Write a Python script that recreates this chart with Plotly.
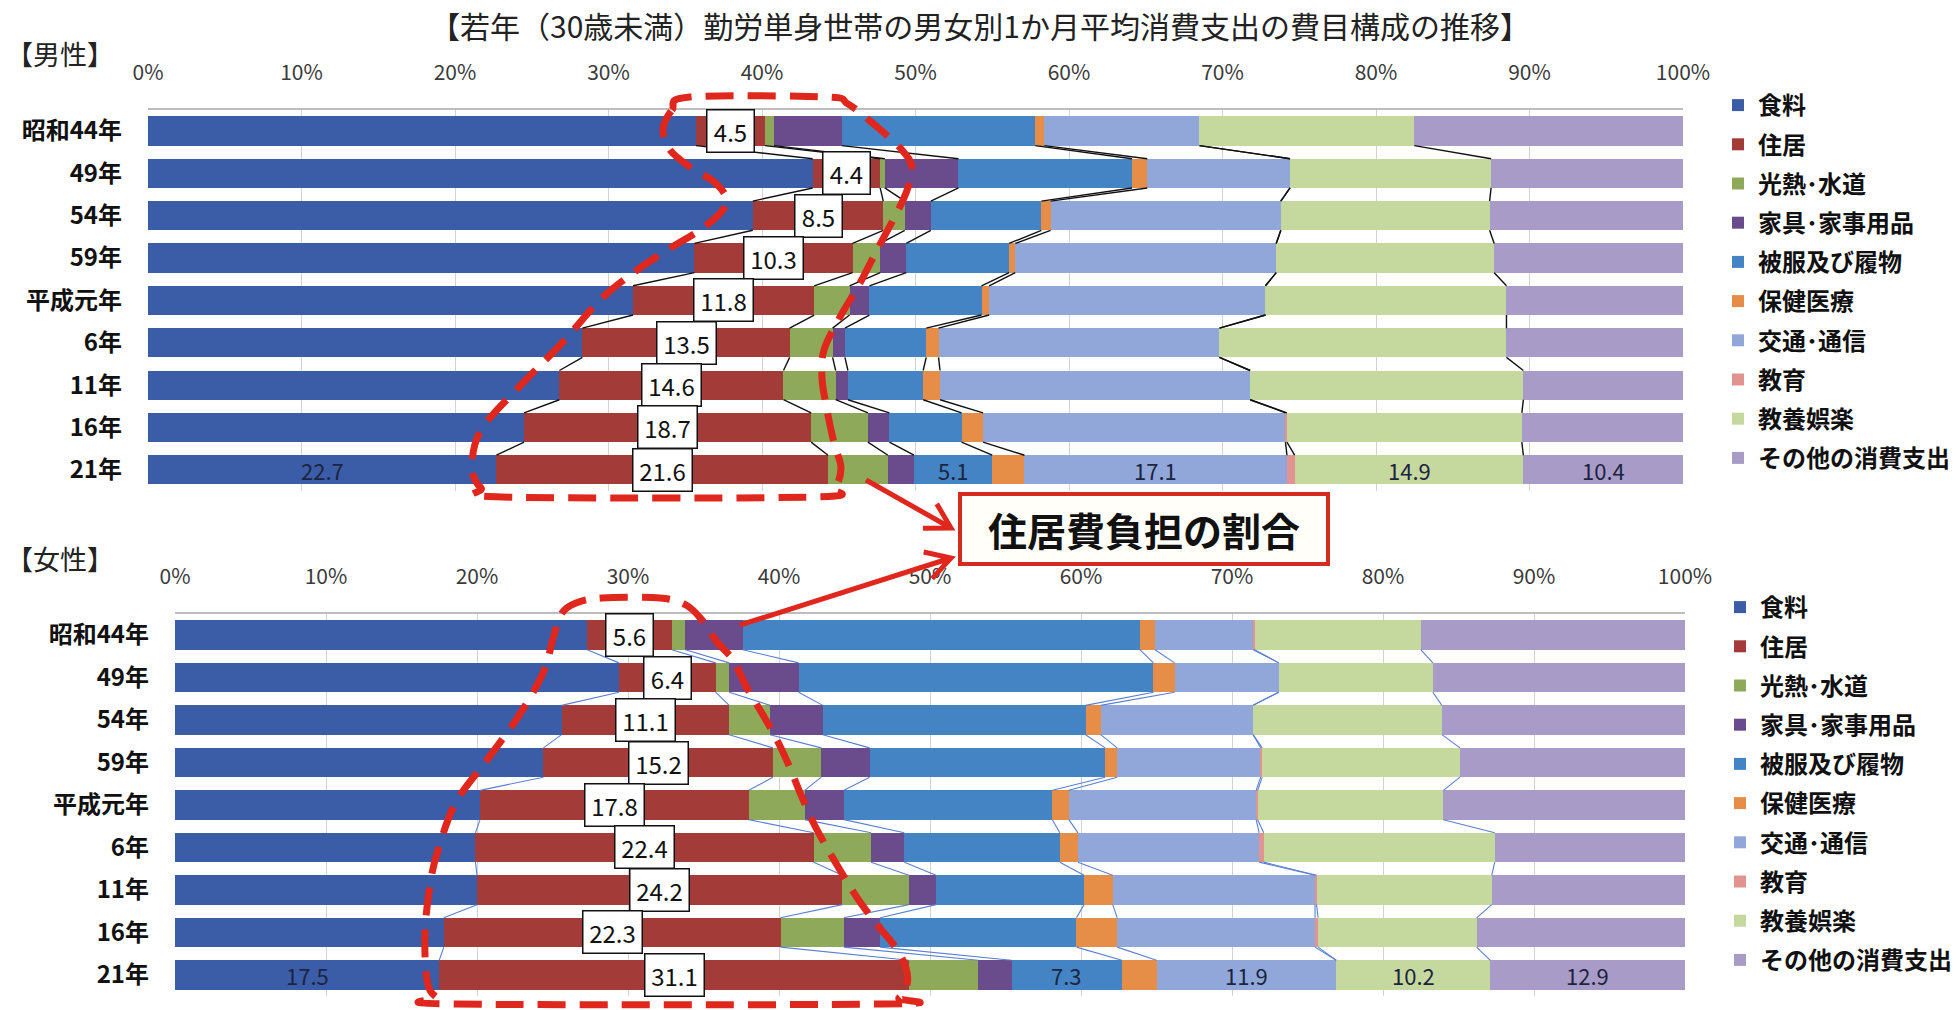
import math
import plotly.graph_objects as go

# ---------------- data ----------------
categories = ["昭和44年", "49年", "54年", "59年", "平成元年", "6年", "11年", "16年", "21年"]
series_names = ["食料", "住居", "光熱･水道", "家具･家事用品", "被服及び履物",
                "保健医療", "交通･通信", "教育", "教養娯楽", "その他の消費支出"]

male_food      = [35.7, 43.3, 39.4, 35.6, 31.6, 28.3, 26.8, 24.5, 22.7]
male_housing   = [4.5, 4.4, 8.5, 10.3, 11.8, 13.5, 14.6, 18.7, 21.6]
male_utility   = [0.6, 0.3, 1.4, 1.8, 2.3, 2.8, 3.4, 3.7, 3.9]
male_furniture = [4.4, 4.8, 1.7, 1.7, 1.3, 0.8, 0.8, 1.4, 1.7]
male_clothing  = [12.6, 11.3, 7.2, 6.7, 7.3, 5.3, 4.9, 4.7, 5.1]
male_medical   = [0.6, 1.0, 0.6, 0.4, 0.5, 0.8, 1.1, 1.4, 2.1]
male_transport = [10.1, 9.3, 15.0, 17.0, 18.0, 18.3, 20.2, 19.7, 17.1]
male_education = [0.0, 0.0, 0.0, 0.0, 0.0, 0.0, 0.0, 0.1, 0.5]
male_culture   = [14.0, 13.1, 13.6, 14.2, 15.7, 18.7, 17.8, 15.3, 14.9]
male_other     = [17.5, 12.5, 12.6, 12.3, 11.5, 11.5, 10.4, 10.5, 10.4]

female_food      = [27.3, 29.4, 25.6, 24.4, 20.2, 19.9, 20.0, 17.8, 17.5]
female_housing   = [5.6, 6.4, 11.1, 15.2, 17.8, 22.4, 24.2, 22.3, 31.1]
female_utility   = [0.9, 0.9, 2.7, 3.2, 3.7, 3.8, 4.4, 4.2, 4.6]
female_furniture = [3.8, 4.6, 3.5, 3.2, 2.6, 2.2, 1.8, 2.4, 2.2]
female_clothing  = [26.3, 23.5, 17.4, 15.6, 13.8, 10.3, 9.8, 13.0, 7.3]
female_medical   = [1.0, 1.4, 1.0, 0.8, 1.1, 1.2, 1.9, 2.7, 2.3]
female_transport = [6.5, 6.9, 10.1, 9.5, 12.4, 12.0, 13.4, 13.1, 11.9]
female_education = [0.1, 0.0, 0.0, 0.1, 0.1, 0.3, 0.1, 0.2, 0.0]
female_culture   = [11.0, 10.2, 12.5, 13.1, 12.3, 15.3, 11.6, 10.5, 10.2]
female_other     = [17.5, 16.7, 16.1, 14.9, 16.0, 12.6, 12.8, 13.8, 12.9]

x_ticks = [0, 10, 20, 30, 40, 50, 60, 70, 80, 90, 100]
x_tick_labels = ["0%", "10%", "20%", "30%", "40%", "50%", "60%", "70%", "80%", "90%", "100%"]

male = [male_food, male_housing, male_utility, male_furniture, male_clothing,
        male_medical, male_transport, male_education, male_culture, male_other]
female = [female_food, female_housing, female_utility, female_furniture, female_clothing,
          female_medical, female_transport, female_education, female_culture, female_other]

# ---------------- style ----------------
colors = ["#3B5CA7", "#A33B39", "#8EA95A", "#6A4C8C", "#4584C4",
          "#E68E47", "#91A7D9", "#E0938F", "#C5D89E", "#A99BC8"]
FONT = "Noto Sans CJK JP"
W, H = 1960, 1010
BAR_W = 0.69
RED = "#E0271E"


def px(x, y):
    return f"{x / W:.5f},{1 - y / H:.5f}"


def smooth_closed(points):
    # Catmull-Rom spline -> cubic bezier path (closed)
    n = len(points)
    d = "M" + px(*points[0])
    for i in range(n):
        p0 = points[(i - 1) % n]
        p1 = points[i]
        p2 = points[(i + 1) % n]
        p3 = points[(i + 2) % n]
        c1 = (p1[0] + (p2[0] - p0[0]) / 6, p1[1] + (p2[1] - p0[1]) / 6)
        c2 = (p2[0] - (p3[0] - p1[0]) / 6, p2[1] - (p3[1] - p1[1]) / 6)
        d += " C" + px(*c1) + " " + px(*c2) + " " + px(*p2)
    return d + " Z"


def arrow_path(start, tip, arm=28, ang=30):
    dx, dy = tip[0] - start[0], tip[1] - start[1]
    L = math.hypot(dx, dy)
    ux, uy = -dx / L, -dy / L
    pts = []
    for s in (1, -1):
        a = math.radians(ang * s)
        rx = ux * math.cos(a) - uy * math.sin(a)
        ry = ux * math.sin(a) + uy * math.cos(a)
        pts.append((tip[0] + arm * rx, tip[1] + arm * ry))
    return ("M" + px(*start) + " L" + px(*tip) +
            " M" + px(*pts[0]) + " L" + px(*tip) + " L" + px(*pts[1]))


fig = go.Figure()

panels = [
    dict(data=male, xa="x", ya="y", legend="legend", grp="m", conn="#111111", connw=1.4),
    dict(data=female, xa="x2", ya="y2", legend="legend2", grp="f", conn="#5A7FD2", connw=1.1),
]
rows = list(range(len(categories)))
annotations = []

for p in panels:
    data = p["data"]
    for k, (name, vals) in enumerate(zip(series_names, data)):
        fig.add_trace(go.Bar(
            x=vals, y=rows, orientation="h", name=name,
            marker=dict(color=colors[k], line=dict(width=0)),
            width=BAR_W, xaxis=p["xa"], yaxis=p["ya"],
            legend=p["legend"], legendgroup=p["grp"] + str(k),
            hovertemplate=name + ": %{x}<extra></extra>",
        ))
    # cumulative sums per row
    cum = []
    for i in rows:
        c, acc = [], 0.0
        for k in range(len(series_names)):
            acc += data[k][i]
            c.append(acc)
        cum.append(c)
    # series connector lines
    for k in range(len(series_names) - 1):
        xs, ys = [], []
        for i in rows[:-1]:
            xs += [cum[i][k], cum[i + 1][k], None]
            ys += [i + BAR_W / 2, i + 1 - BAR_W / 2, None]
        fig.add_trace(go.Scatter(
            x=xs, y=ys, mode="lines", xaxis=p["xa"], yaxis=p["ya"],
            line=dict(color=p["conn"], width=p["connw"]),
            showlegend=False, hoverinfo="skip",
        ))
    # housing value boxes
    for i in rows:
        v = data[1][i]
        t = f"{v:.1f}"
        annotations.append(dict(
            x=cum[i][0] + v / 2, y=i, xref=p["xa"], yref=p["ya"],
            text=t, showarrow=False, width=len(t) * 12 + 4,
            font=dict(family=FONT, size=24, color="#111111"),
            bgcolor="white", bordercolor="#111111", borderwidth=1.5, borderpad=3,
        ))
    # plain labels on the last row
    last = rows[-1]
    for k in [0, 4, 6, 8, 9]:
        v = data[k][last]
        start = cum[last][k] - v
        annotations.append(dict(
            x=start + v / 2, y=last, xref=p["xa"], yref=p["ya"],
            text=f"{v:.1f}", showarrow=False,
            font=dict(family=FONT, size=22, color="#1B2440"),
        ))

axis_common = dict(
    range=[0, 100], side="top", tickvals=x_ticks, ticktext=x_tick_labels,
    showgrid=True, gridcolor="#D3D3D3", gridwidth=1, zeroline=False,
    showline=True, linecolor="#BDBDBD", linewidth=1.5, ticks="",
    ticklabelstandoff=20, tickfont=dict(family=FONT, size=21, color="#3A3A3A"),
    fixedrange=True, automargin=False,
)
yaxis_common = dict(
    range=[8.5, -0.5], tickvals=rows, ticktext=categories,
    showgrid=False, zeroline=False, showline=False, ticks="",
    ticklabelstandoff=25,
    tickfont=dict(family=FONT, size=24, color="#111111", weight="bold"),
    fixedrange=True, automargin=False,
)

legend_common = dict(xanchor="left", yanchor="top", traceorder="grouped",
                     tracegroupgap=5,
                     font=dict(family=FONT, size=24, color="#111111", weight="bold"),
                     bgcolor="rgba(0,0,0,0)")

fig.update_layout(
    template="none",
    width=W, height=H, margin=dict(l=0, r=0, t=0, b=0, pad=0, autoexpand=False),
    paper_bgcolor="white", plot_bgcolor="white",
    barmode="stack", bargap=0.3,
    font=dict(family=FONT),
    xaxis=dict(axis_common, domain=[148 / W, 1683 / W], anchor="y"),
    yaxis=dict(yaxis_common, domain=[1 - 491 / H, 1 - 109.8 / H], anchor="x"),
    xaxis2=dict(axis_common, domain=[175 / W, 1685 / W], anchor="y2"),
    yaxis2=dict(yaxis_common, domain=[1 - 996.2 / H, 1 - 613.8 / H], anchor="x2"),
    legend=dict(legend_common, x=1718 / W, y=1 - 83 / H),
    legend2=dict(legend_common, x=1720 / W, y=1 - 585 / H),
    showlegend=True,
)

# titles
annotations += [
    dict(x=980 / W, y=1 - 25 / H, xref="paper", yref="paper", showarrow=False,
         xanchor="center", yanchor="middle",
         text="【若年（30歳未満）勤労単身世帯の男女別1か月平均消費支出の費目構成の推移】",
         font=dict(family=FONT, size=30, color="#222222")),
    dict(x=4 / W, y=1 - 53 / H, xref="paper", yref="paper", showarrow=False,
         xanchor="left", yanchor="middle", text="【男性】",
         font=dict(family=FONT, size=27, color="#222222")),
    dict(x=4 / W, y=1 - 558 / H, xref="paper", yref="paper", showarrow=False,
         xanchor="left", yanchor="middle", text="【女性】",
         font=dict(family=FONT, size=27, color="#222222")),
    dict(x=1144 / W, y=1 - 529 / H, xref="paper", yref="paper", showarrow=False,
         xanchor="center", yanchor="middle",
         text="住居費負担の割合", font=dict(family=FONT, size=39, color="#111111", weight="bold")),
]

male_outline = [(672, 110), (690, 97), (825, 97), (848, 104), (876, 126), (902, 150),
                (912, 168), (906, 193), (893, 220), (877, 250), (860, 283), (840, 317),
                (824, 350), (822, 378), (827, 410), (834, 443), (841, 468), (834, 488),
                (812, 497), (502, 497), (481, 488), (472, 467), (481, 430), (519, 387),
                (562, 343), (600, 300), (633, 273), (667, 250), (700, 230), (722, 211),
                (726, 197), (713, 181), (690, 167), (670, 150), (663, 130)]
female_outline = [(562, 613), (576, 603), (602, 598), (660, 598), (686, 605), (702, 620),
                  (717, 642), (733, 660), (747, 688), (763, 715), (778, 742), (790, 768),
                  (801, 795), (813, 822), (827, 848), (843, 875), (860, 902), (880, 928),
                  (896, 948), (906, 968), (907, 985), (899, 998), (884, 1004), (456, 1004),
                  (436, 997), (427, 980), (425, 933), (430, 885), (438, 850), (456, 802),
                  (487, 760), (518, 717), (543, 673), (554, 635)]

shapes = [
    dict(type="path", xref="paper", yref="paper", path=smooth_closed(male_outline),
         line=dict(color=RED, width=7, dash="28px,14px"), fillcolor="rgba(0,0,0,0)"),
    dict(type="path", xref="paper", yref="paper", path=smooth_closed(female_outline),
         line=dict(color=RED, width=7, dash="28px,14px"), fillcolor="rgba(0,0,0,0)"),
    dict(type="rect", xref="paper", yref="paper",
         x0=960 / W, x1=1328 / W, y0=1 - 564 / H, y1=1 - 494 / H,
         line=dict(color="#D42A20", width=4), fillcolor="#FFFEF9"),
    dict(type="path", xref="paper", yref="paper", path=arrow_path((866, 480), (951, 528)),
         line=dict(color=RED, width=5)),
    dict(type="path", xref="paper", yref="paper", path=arrow_path((740, 625), (951, 558)),
         line=dict(color=RED, width=5)),
]

fig.update_layout(annotations=annotations, shapes=shapes)
fig.write_html(
    "out.html",
    config={"displayModeBar": False},
    post_script="document.body.style.margin='0';document.body.style.padding='0';",
)
